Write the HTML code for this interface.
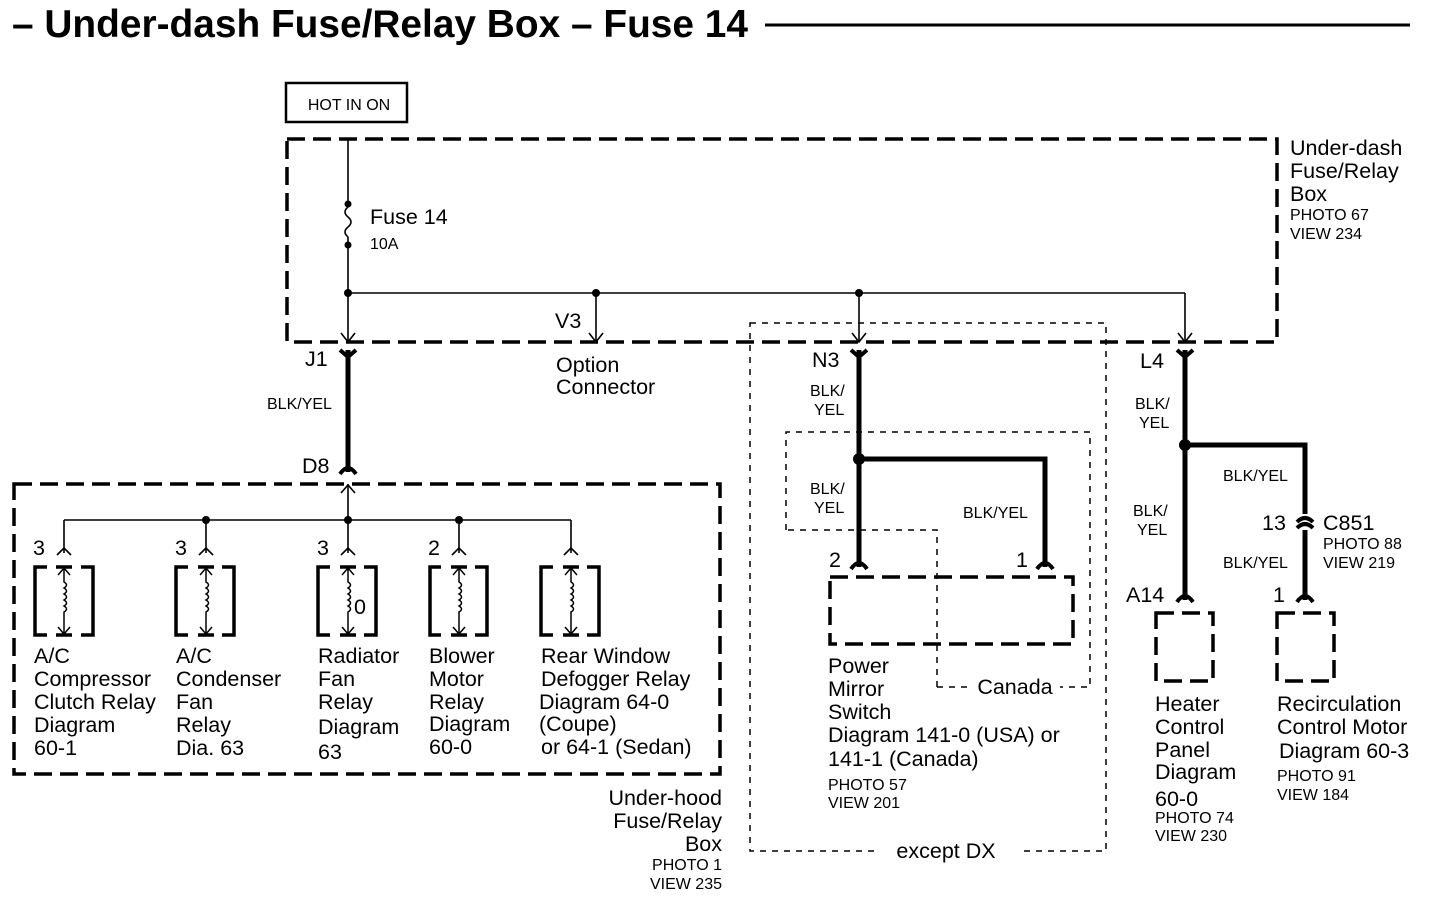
<!DOCTYPE html>
<html><head><meta charset="utf-8"><style>
html,body{margin:0;padding:0;background:#fff;}
svg{display:block;font-family:"Liberation Sans",Arial,sans-serif;}
.l{font-size:21.5px;}
.s{font-size:16px;}
</style></head><body>
<svg width="1440" height="900" viewBox="0 0 1440 900" xmlns="http://www.w3.org/2000/svg">
<rect width="1440" height="900" fill="#fff"/>
<text x="12" y="37" font-size="39" font-weight="bold" textLength="736" lengthAdjust="spacingAndGlyphs">– Under-dash Fuse/Relay Box – Fuse 14</text>
<line x1="765" y1="25" x2="1410" y2="25" stroke="#000" stroke-width="3"/>

<rect x="286" y="83" width="121" height="39" fill="none" stroke="#000" stroke-width="2.5"/>
<text x="349" y="110" class="s" text-anchor="middle">HOT IN ON</text>

<g fill="none" stroke="#000" stroke-width="3.5" stroke-dasharray="18,8">
<rect x="287" y="139" width="990" height="203"/>
<rect x="14" y="484" width="706" height="290"/>
</g>
<text x="1290" y="155" class="l">Under-dash</text>
<text x="1290" y="178" class="l">Fuse/Relay</text>
<text x="1290" y="201" class="l">Box</text>
<text x="1290" y="220" class="s">PHOTO 67</text>
<text x="1290" y="239" class="s">VIEW 234</text>

<g fill="none" stroke="#000" stroke-width="1.6">
<line x1="348" y1="139" x2="348" y2="207"/>
<path d="M348 207 q-6 5 0 10 q6 5 0 10 q-6 5 0 10 M348 237 L348 342"/>
<line x1="348" y1="293" x2="1185" y2="293"/>
<line x1="596" y1="293" x2="596" y2="342"/>
<line x1="859" y1="293" x2="859" y2="342"/>
<line x1="1185" y1="293" x2="1185" y2="342"/>
<path d="M341 333 L348 342 L355 333 M589 333 L596 342 L603 333 M852 333 L859 342 L866 333 M1178 333 L1185 342 L1192 333"/>
<line x1="348" y1="484" x2="348" y2="520"/>
<path d="M341 493 L348 485 L355 493"/>
<line x1="64" y1="520" x2="571" y2="520"/>
<path d="M64 520 V553 M206 520 V553 M348 520 V553 M459 520 V553 M571 520 V553"/>
<path d="M57 555 L64 548 L71 555 M199 555 L206 548 L213 555 M341 555 L348 548 L355 555 M452 555 L459 548 L466 555 M564 555 L571 548 L578 555"/>
</g>
<g fill="#000">
<circle cx="348" cy="204" r="3.5"/><circle cx="348" cy="245" r="3.5"/>
<circle cx="348" cy="293" r="4"/><circle cx="596" cy="293" r="4"/><circle cx="859" cy="293" r="4"/>
<circle cx="206" cy="520" r="4"/><circle cx="348" cy="520" r="4"/><circle cx="459" cy="520" r="4"/>
</g>
<text x="370" y="224" class="l">Fuse 14</text>
<text x="370" y="249" class="s">10A</text>
<text x="555" y="328" class="l">V3</text>
<text x="556" y="372" class="l">Option</text>
<text x="556" y="394" class="l">Connector</text>

<g fill="none" stroke="#000">
<g stroke-width="3.5">
<path d="M47 567 H35 V635 H47 M81 567 H93 V635 H81"/>
<path d="M188 567 H176 V635 H188 M222 567 H234 V635 H222"/>
<path d="M330 567 H318 V635 H330 M364 567 H376 V635 H364"/>
<path d="M441 567 H430 V635 H441 M475 567 H487 V635 H475"/>
<path d="M553 567 H541 V635 H553 M587 567 H599 V635 H587"/>
<path d="M56 567 H72 M56 635 H72 M198 567 H214 M198 635 H214 M340 567 H356 M340 635 H356 M451 567 H467 M451 635 H467 M563 567 H579 M563 635 H579"/>
</g>
<g stroke-width="1.5">
<path d="M64 568 V582 q5 3 0 6 q5 3 0 6 q5 3 0 6 q5 3 0 6 q5 3 0 6 V634 M58 575 L64 568 L70 575 M58 627 L64 634 L70 627"/>
<path d="M206 568 V582 q5 3 0 6 q5 3 0 6 q5 3 0 6 q5 3 0 6 q5 3 0 6 V634 M200 575 L206 568 L212 575 M200 627 L206 634 L212 627"/>
<path d="M348 568 V582 q5 3 0 6 q5 3 0 6 q5 3 0 6 q5 3 0 6 q5 3 0 6 V634 M342 575 L348 568 L354 575 M342 627 L348 634 L354 627"/>
<path d="M459 568 V582 q5 3 0 6 q5 3 0 6 q5 3 0 6 q5 3 0 6 q5 3 0 6 V634 M453 575 L459 568 L465 575 M453 627 L459 634 L465 627"/>
<path d="M571 568 V582 q5 3 0 6 q5 3 0 6 q5 3 0 6 q5 3 0 6 q5 3 0 6 V634 M565 575 L571 568 L577 575 M565 627 L571 634 L577 627"/>
</g>
</g>
<text x="33" y="555" class="l">3</text><text x="175" y="555" class="l">3</text><text x="317" y="555" class="l">3</text><text x="428" y="555" class="l">2</text>
<text x="354" y="614" class="l">0</text>
<g class="l">
<text x="34" y="663">A/C</text><text x="34" y="686">Compressor</text><text x="34" y="709">Clutch Relay</text><text x="34" y="732">Diagram</text><text x="34" y="755">60-1</text>
<text x="176" y="663">A/C</text><text x="176" y="686">Condenser</text><text x="176" y="709">Fan</text><text x="176" y="732">Relay</text><text x="176" y="755">Dia. 63</text>
<text x="318" y="663">Radiator</text><text x="318" y="686">Fan</text><text x="318" y="709">Relay</text><text x="318" y="734">Diagram</text><text x="318" y="759">63</text>
<text x="429" y="663">Blower</text><text x="429" y="686">Motor</text><text x="429" y="709">Relay</text><text x="429" y="731">Diagram</text><text x="429" y="754">60-0</text>
<text x="541" y="663">Rear Window</text><text x="541" y="686">Defogger Relay</text><text x="539" y="709">Diagram 64-0</text><text x="539" y="731">(Coupe)</text><text x="541" y="754">or 64-1 (Sedan)</text>
</g>
<text x="722" y="805" class="l" text-anchor="end">Under-hood</text>
<text x="722" y="828" class="l" text-anchor="end">Fuse/Relay</text>
<text x="722" y="851" class="l" text-anchor="end">Box</text>
<text x="722" y="870" class="s" text-anchor="end">PHOTO 1</text>
<text x="722" y="889" class="s" text-anchor="end">VIEW 235</text>

<g fill="none" stroke="#000" stroke-width="5">
<line x1="348" y1="350" x2="348" y2="472"/>
<line x1="859" y1="350" x2="859" y2="567"/>
<path d="M859 459 H1045 V567"/>
<line x1="1185" y1="350" x2="1185" y2="600"/>
<path d="M1185 445 H1305 V514 M1305 530 V600"/>
</g>
<g fill="none" stroke="#000" stroke-width="4">
<path d="M340 350 L348 357 L356 350 M851 350 L859 357 L867 350 M1177 350 L1185 357 L1193 350"/>
<path d="M340 474 Q348 462 356 474 M851 569 Q859 557 867 569 M1037 569 Q1045 557 1053 569 M1177 602 Q1185 590 1193 602 M1297 602 Q1305 590 1313 602"/>
<path d="M1297 522 Q1305 514 1313 522 M1297 528 Q1305 520 1313 528"/>
</g>
<g fill="#000"><circle cx="859" cy="459" r="6"/><circle cx="1185" cy="445" r="6"/></g>

<text x="305" y="366" class="l">J1</text>
<text x="267" y="409" class="s">BLK/YEL</text>
<text x="302" y="473" class="l">D8</text>

<g fill="none" stroke="#000" stroke-width="1.5" stroke-dasharray="6,6">
<rect x="750" y="323" width="356" height="528"/>
<path d="M786 530 V432 H1090 V687 M937 687 V530 H786 M937 687 H1090"/>
</g>
<rect x="880" y="840" width="140" height="20" fill="#fff"/>
<rect x="970" y="675" width="90" height="22" fill="#fff"/>
<text x="1015" y="694" class="l" text-anchor="middle">Canada</text>
<text x="946" y="858" class="l" text-anchor="middle">except DX</text>

<text x="812" y="367" class="l">N3</text>
<text x="810" y="396" class="s">BLK/</text><text x="814" y="415" class="s">YEL</text>
<text x="810" y="494" class="s">BLK/</text><text x="814" y="513" class="s">YEL</text>
<text x="963" y="518" class="s">BLK/YEL</text>
<text x="829" y="567" class="l">2</text><text x="1016" y="567" class="l">1</text>
<rect x="830" y="577" width="243" height="67" fill="none" stroke="#000" stroke-width="3.5" stroke-dasharray="18,8"/>
<g class="l">
<text x="828" y="673">Power</text><text x="828" y="696">Mirror</text><text x="828" y="719">Switch</text>
<text x="828" y="742">Diagram 141-0 (USA) or</text><text x="828" y="766">141-1 (Canada)</text>
</g>
<text x="828" y="790" class="s">PHOTO 57</text><text x="828" y="808" class="s">VIEW 201</text>

<text x="1140" y="368" class="l">L4</text>
<text x="1135" y="409" class="s">BLK/</text><text x="1139" y="428" class="s">YEL</text>
<text x="1133" y="516" class="s">BLK/</text><text x="1137" y="535" class="s">YEL</text>
<text x="1223" y="481" class="s">BLK/YEL</text>
<text x="1223" y="568" class="s">BLK/YEL</text>
<text x="1262" y="530" class="l">13</text>
<text x="1323" y="530" class="l">C851</text>
<text x="1323" y="549" class="s">PHOTO 88</text><text x="1323" y="568" class="s">VIEW 219</text>
<text x="1126" y="602" class="l">A14</text>
<text x="1273" y="602" class="l">1</text>
<g fill="none" stroke="#000" stroke-width="3.5" stroke-dasharray="18,8">
<rect x="1156" y="613" width="57" height="68"/>
<rect x="1277" y="613" width="57" height="68"/>
</g>
<g class="l">
<text x="1155" y="711">Heater</text><text x="1155" y="734">Control</text><text x="1155" y="757">Panel</text><text x="1155" y="779">Diagram</text><text x="1155" y="806">60-0</text>
<text x="1277" y="711">Recirculation</text><text x="1277" y="734">Control Motor</text><text x="1279" y="758">Diagram 60-3</text>
</g>
<text x="1155" y="823" class="s">PHOTO 74</text><text x="1155" y="841" class="s">VIEW 230</text>
<text x="1277" y="781" class="s">PHOTO 91</text><text x="1277" y="800" class="s">VIEW 184</text>
</svg>
</body></html>
